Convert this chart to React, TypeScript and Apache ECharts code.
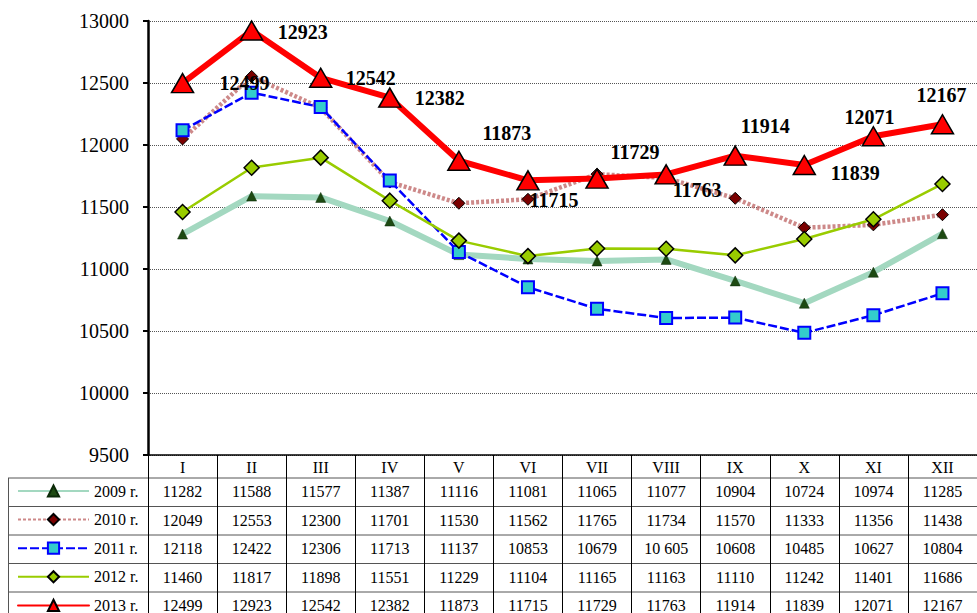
import React, { useEffect, useRef } from 'react';
import * as echarts from 'echarts';

const months = ['I', 'II', 'III', 'IV', 'V', 'VI', 'VII', 'VIII', 'IX', 'X', 'XI', 'XII'];
const seriesNames = ['2009 r.', '2010 r.', '2011 r.', '2012 r.', '2013 r.'];
const v2009 = [11282, 11588, 11577, 11387, 11116, 11081, 11065, 11077, 10904, 10724, 10974, 11285];
const v2010 = [12049, 12553, 12300, 11701, 11530, 11562, 11765, 11734, 11570, 11333, 11356, 11438];
const v2011 = [12118, 12422, 12306, 11713, 11137, 10853, 10679, 10605, 10608, 10485, 10627, 10804];
const v2012 = [11460, 11817, 11898, 11551, 11229, 11104, 11165, 11163, 11110, 11242, 11401, 11686];
const v2013 = [12499, 12923, 12542, 12382, 11873, 11715, 11729, 11763, 11914, 11839, 12071, 12167];
const yTicks = { min: 9500, max: 13000, step: 500 };
// the table in the source writes one value with a thousands space
const tableText2011 = v2011.map((v) => (v === 10605 ? '10 605' : String(v)));

// label offsets (styling) for the 2013 data labels
const labelOffsets: [number, number][] = [
  [62, 0], [51, 1], [50, 0], [50, 0], [48, -28], [26, 20],
  [38, -27], [31, 16], [30, -30], [51, 8], [-4, -19], [-1, -29],
];

const FONT = "'Liberation Serif', 'Times New Roman', serif";

export default function App() {
  const ref = useRef<HTMLDivElement>(null);
  useEffect(() => {
    if (!ref.current) return;
    const chart = echarts.init(ref.current, null, { renderer: 'svg' });
    const gridTop = 21;
    const axisY = 455;
    const rowCenters = [491, 520, 548, 577, 605];
    const tableRows = [
      v2009.map(String),
      v2010.map(String),
      tableText2011,
      v2012.map(String),
      v2013.map(String),
    ];
    const rowLines = [478, 506.5, 535, 563.5, 592];

    const extraAxes = tableRows.map((row, k) => ({
      type: 'category',
      gridIndex: 0,
      position: 'bottom',
      offset: rowCenters[k] - axisY,
      data: row,
      axisLine: { show: false },
      axisTick: { show: false },
      splitLine: { show: false },
      axisPointer: { show: false },
      axisLabel: {
        interval: 0,
        margin: 0,
        verticalAlign: 'middle',
        fontFamily: FONT,
        fontSize: 16,
        color: '#000',
      },
    }));

    const graphic: any[] = rowLines.map((y) => ({
      type: 'line',
      shape: { x1: 8, y1: y, x2: 977, y2: y },
      style: { stroke: '#555', lineWidth: 1 },
      silent: true,
    }));
    graphic.push({
      type: 'line',
      shape: { x1: 8.5, y1: 478, x2: 8.5, y2: 613 },
      style: { stroke: '#555', lineWidth: 1 },
      silent: true,
    });

    const option: any = {
      animation: false,
      backgroundColor: '#fff',
      grid: { left: 148, right: -10, top: gridTop, bottom: 613 - axisY, containLabel: false },
      legend: {
        orient: 'vertical',
        left: 17,
        top: 483,
        height: 200,
        padding: 0,
        itemWidth: 71,
        itemHeight: 14,
        itemGap: 12.6,
        selectedMode: false,
        data: seriesNames,
        textStyle: { fontFamily: FONT, fontSize: 16, color: '#000' },
      },
      xAxis: [
        {
          type: 'category',
          data: months,
          boundaryGap: true,
          axisLine: { lineStyle: { color: '#000', width: 1.5 } },
          axisTick: { show: true, interval: 0, length: 170, lineStyle: { color: '#000', width: 1 } },
          axisLabel: {
            interval: 0,
            margin: 12,
            verticalAlign: 'middle',
            fontFamily: FONT,
            fontSize: 16,
            color: '#000',
          },
          splitLine: { show: false },
        },
        ...extraAxes,
      ],
      yAxis: {
        type: 'value',
        min: yTicks.min,
        max: yTicks.max,
        interval: yTicks.step,
        axisLine: { show: true, lineStyle: { color: '#000', width: 2.5 } },
        axisTick: { show: true, length: 5, lineStyle: { color: '#000', width: 2 } },
        axisLabel: {
          margin: 19,
          fontFamily: FONT,
          fontSize: 20,
          color: '#000',
          formatter: (v: number) => String(v),
        },
        splitLine: { show: true, lineStyle: { color: '#555', type: 'dotted', width: 1 } },
      },
      graphic,
      series: [
        {
          name: seriesNames[0],
          type: 'line',
          data: v2009,
          symbol: 'triangle',
          symbolSize: 10,
          itemStyle: { color: '#1d4a12', borderColor: '#0b2a08', borderWidth: 0.5 },
          lineStyle: { color: '#a3d8c0', width: 6 },
          z: 2,
        },
        {
          name: seriesNames[1],
          type: 'line',
          data: v2010,
          symbol: 'diamond',
          symbolSize: 12,
          itemStyle: { color: '#7a0000', borderColor: '#000', borderWidth: 1 },
          lineStyle: { color: '#c47474', width: 4.5, type: [3, 2], opacity: 0.85 },
          z: 3,
        },
        {
          name: seriesNames[2],
          type: 'line',
          data: v2011,
          symbol: 'rect',
          symbolSize: 12,
          itemStyle: { color: '#33cccc', borderColor: '#0000ff', borderWidth: 2 },
          lineStyle: { color: '#0000ff', width: 2.5, type: [9, 3] },
          z: 4,
        },
        {
          name: seriesNames[3],
          type: 'line',
          data: v2012,
          symbol: 'diamond',
          symbolSize: 15,
          itemStyle: { color: '#99cc00', borderColor: '#000', borderWidth: 1.5 },
          lineStyle: { color: '#99cc00', width: 2.5 },
          z: 5,
        },
        {
          name: seriesNames[4],
          type: 'line',
          data: v2013.map((v, i) => ({ value: v, label: { offset: labelOffsets[i] } })),
          symbol: 'triangle',
          symbolSize: [22, 19],
          itemStyle: { color: '#ff0000', borderColor: '#000', borderWidth: 1.5 },
          lineStyle: { color: '#ff0000', width: 6, cap: 'round' },
          label: {
            show: true,
            position: 'inside',
            fontFamily: FONT,
            fontSize: 20,
            fontWeight: 'bold',
            color: '#000',
          },
          z: 6,
        },
      ],
    };
    chart.setOption(option);
    return () => chart.dispose();
  }, []);
  return (
    <div
      ref={ref}
      style={{ position: 'absolute', left: 0, top: 0, width: 977, height: 613 }}
    />
  );
}
